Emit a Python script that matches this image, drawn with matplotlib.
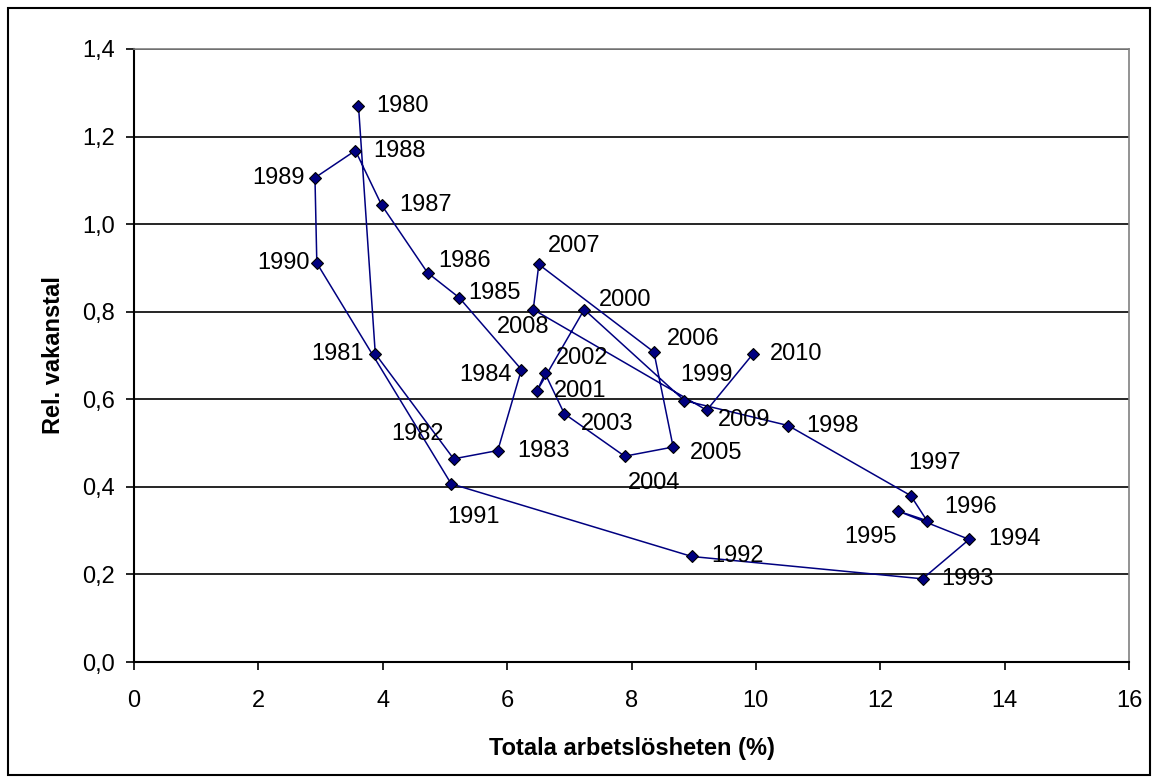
import matplotlib.pyplot as plt
from matplotlib.patches import Rectangle
from matplotlib.ticker import FuncFormatter

plt.rcParams['font.family'] = ['Liberation Sans', 'DejaVu Sans']

# data
years = list(range(1980, 2011))
unemp = [3.61, 3.88, 5.14, 5.85, 6.23, 5.23, 4.72, 3.98, 3.56, 2.91,
         2.94, 5.10, 8.97, 12.68, 13.43, 12.28, 12.75, 12.49, 10.52, 8.85,
         7.24, 6.48, 6.61, 6.92, 7.89, 8.67, 8.36, 6.51, 6.42, 9.21, 9.95]
vac = [1.270, 0.704, 0.464, 0.483, 0.668, 0.832, 0.889, 1.044, 1.168, 1.106,
       0.911, 0.407, 0.241, 0.190, 0.280, 0.345, 0.323, 0.380, 0.540, 0.597,
       0.805, 0.619, 0.659, 0.567, 0.470, 0.491, 0.708, 0.908, 0.805, 0.575, 0.703]

# label placement (pixel offsets from marker, horizontal alignment)
lab_pos = {
    1980: (18, 0, 'left'), 1981: (-12, 0, 'right'), 1982: (-10, 25, 'right'),
    1983: (19, 0, 'left'), 1984: (-10, -5, 'right'), 1985: (9, 5, 'left'),
    1986: (11, 12, 'left'), 1987: (18, 0, 'left'), 1988: (18, 0, 'left'),
    1989: (-10, 0, 'right'), 1990: (-7, 0, 'right'), 1991: (-4, -33, 'left'),
    1992: (19, 0, 'left'), 1993: (19, 0, 'left'), 1994: (19, 0, 'left'),
    1995: (-1, -26, 'right'), 1996: (17, 14, 'left'), 1997: (-2, 33, 'left'),
    1998: (18, 0, 'left'), 1999: (-4, 26, 'left'), 2000: (15, 10, 'left'),
    2001: (17, 0, 'left'), 2002: (11, 15, 'left'), 2003: (17, -10, 'left'),
    2004: (3, -27, 'left'), 2005: (17, -6, 'left'), 2006: (13, 13, 'left'),
    2007: (9, 18, 'left'), 2008: (-36, -17, 'left'), 2009: (11, -10, 'left'),
    2010: (17, 0, 'left'),
}

fs = 17

fig = plt.figure(figsize=(11.59, 7.83), dpi=100)
ax = fig.add_axes([134 / 1159, 1 - 662 / 783, (1129 - 134) / 1159, (662 - 49) / 783])

ax.plot(unemp, vac, color='#000080', lw=1.1, marker='D', ms=6.5,
        mfc='#000080', mec='black', mew=0.8, zorder=3)

for yr, x, y in zip(years, unemp, vac):
    dx, dy, ha = lab_pos[yr]
    ax.annotate(str(yr), (x, y), xytext=(dx, dy), textcoords='offset pixels',
                ha=ha, va='center', fontsize=fs, color='black', zorder=4)

ax.set_xlim(0, 16)
ax.set_ylim(0, 1.4)
ax.set_xticks(range(0, 17, 2))
ax.set_yticks([0, 0.2, 0.4, 0.6, 0.8, 1.0, 1.2, 1.4])
ax.yaxis.set_major_formatter(FuncFormatter(lambda v, p: f"{v:.1f}".replace('.', ',')))
ax.tick_params(direction='out', length=6, width=1.2, labelsize=fs, colors='black')
ax.tick_params(axis='x', pad=14)
ax.tick_params(axis='y', pad=8)
ax.grid(axis='y', color='black', lw=1.2, zorder=1)

for s in ['left', 'bottom']:
    ax.spines[s].set_color('black')
    ax.spines[s].set_linewidth(1.5)
for s in ['right', 'top']:
    ax.spines[s].set_color('#808080')
    ax.spines[s].set_linewidth(1.2)

ax.set_xlabel('Totala arbetslösheten (%)', fontsize=fs, fontweight='bold', labelpad=18)
ax.set_ylabel('Rel. vakanstal', fontsize=fs, fontweight='bold', labelpad=12)

fig.patches.append(Rectangle((8 / 1159, 8 / 783), 1142 / 1159, 767 / 783,
                             transform=fig.transFigure, fill=False,
                             edgecolor='black', lw=1.5))

fig.savefig('out.png', dpi=100)
